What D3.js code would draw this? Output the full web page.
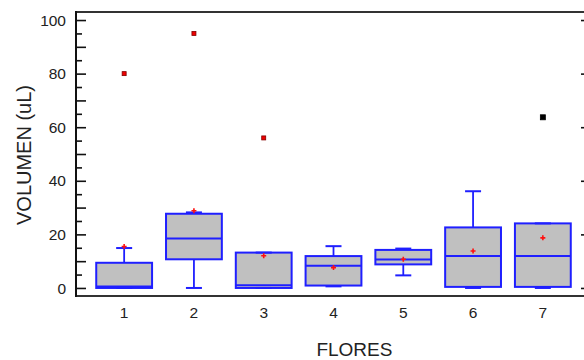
<!DOCTYPE html>
<html>
<head>
<meta charset="utf-8">
<script src="https://cdn.jsdelivr.net/npm/d3@7"></script>
<style>
  body { margin: 0; background: #fff; }
  svg { display: block; font-family: "Liberation Sans", Arial, sans-serif; }
</style>
</head>
<body>
<svg id="chart"></svg>
<script>
// datos de las cajas
const categories = [1, 2, 3, 4, 5, 6, 7];
const whiskerLow = [0, 0, 0, 0.6, 4.7, 0, 0];
const q1 = [0, 10.7, 0, 0.9, 8.8, 0.4, 0.4];
const medians = [0.5, 18.5, 1.0, 8.3, 10.6, 11.9, 11.9];
const q3 = [9.4, 27.7, 13.2, 11.9, 14.2, 22.6, 24.1];
const whiskerHigh = [14.9, 28.2, 13.2, 15.6, 14.7, 36.1, 24.1];
const means = [15.5, 28.8, 12.0, 7.6, 10.7, 13.8, 18.7];
// puntos atipicos: categoria, valor, tipo
const outlierCat = [1, 2, 3, 7];
const outlierVal = [80, 95, 56, 63.7];
const outlierFar = [false, false, false, true];
const yTicks = [0, 20, 40, 60, 80, 100];

const width = 584;
const height = 360;
const svg = d3.select("#chart").attr("width", width).attr("height", height);

const marge = { left: 76, right: 591, top: 12, bottom: 296 };

const x = d3.scaleLinear().domain([0.31, 7.69]).range([marge.left, marge.right]);
const y = d3.scaleLinear().domain([-3, 103]).range([marge.bottom, marge.top]);
const boxW = x(1.8) - x(1);
const capW = 16;

// eje y izquierdo: marcas mayores, intermedias y menores hacia dentro
const gy = svg.append("g").attr("transform", `translate(${marge.left},0)`);
gy.call(d3.axisRight(y).tickValues(d3.range(0, 101, 10)).tickSize(10).tickFormat(""))
  .call(g => g.select(".domain").remove());
gy.append("g").call(d3.axisRight(y).tickValues(d3.range(5, 100, 10)).tickSize(6).tickFormat(""))
  .call(g => g.select(".domain").remove());
gy.selectAll("line").attr("stroke", "#111").attr("stroke-width", 1.6);
gy.selectAll(".ylab").data(yTicks).enter().append("text")
  .attr("x", -10).attr("y", d => y(d)).attr("dy", "0.36em")
  .attr("text-anchor", "end").attr("font-size", 15.5).attr("fill", "#222")
  .text(d => d);

// eje y derecho (queda casi fuera del cuadro)
const gr = svg.append("g").attr("transform", `translate(${marge.right},0)`);
gr.call(d3.axisLeft(y).tickValues(yTicks).tickSize(10).tickFormat(""))
  .call(g => g.select(".domain").remove());
gr.append("g").call(d3.axisLeft(y).tickValues(d3.range(5, 100, 5).filter(v => v % 20)).tickSize(5).tickFormat(""))
  .call(g => g.select(".domain").remove());
gr.selectAll("line").attr("stroke", "#111").attr("stroke-width", 1.6);

// marco
svg.append("line").attr("x1", marge.left).attr("x2", marge.right)
  .attr("y1", marge.top).attr("y2", marge.top)
  .attr("stroke", "#333").attr("stroke-width", 2);
svg.append("line").attr("x1", marge.left).attr("x2", marge.right)
  .attr("y1", marge.bottom).attr("y2", marge.bottom)
  .attr("stroke", "#333").attr("stroke-width", 2);
svg.append("line").attr("x1", marge.left).attr("x2", marge.left)
  .attr("y1", marge.top - 1).attr("y2", marge.bottom + 1)
  .attr("stroke", "#111").attr("stroke-width", 2);

// etiquetas del eje x
svg.selectAll(".xlab").data(categories).enter().append("text")
  .attr("x", d => x(d)).attr("y", 318)
  .attr("text-anchor", "middle").attr("font-size", 15.5).attr("fill", "#222")
  .text(d => d);

// cajas
const blue = "#1f1fff";
const gs = svg.selectAll(".box").data(categories).enter().append("g");
gs.append("line")
  .attr("x1", d => x(d)).attr("x2", d => x(d))
  .attr("y1", (d, i) => y(q3[i])).attr("y2", (d, i) => y(whiskerHigh[i]))
  .attr("stroke", blue).attr("stroke-width", 1.8);
gs.append("line")
  .attr("x1", d => x(d)).attr("x2", d => x(d))
  .attr("y1", (d, i) => y(q1[i])).attr("y2", (d, i) => y(whiskerLow[i]))
  .attr("stroke", blue).attr("stroke-width", 1.8);
gs.append("rect")
  .attr("x", d => x(d) - boxW / 2)
  .attr("y", (d, i) => y(q3[i]))
  .attr("width", boxW)
  .attr("height", (d, i) => y(q1[i]) - y(q3[i]))
  .attr("fill", "#c0c0c0").attr("stroke", blue).attr("stroke-width", 2);
gs.append("line")
  .attr("x1", d => x(d) - boxW / 2).attr("x2", d => x(d) + boxW / 2)
  .attr("y1", (d, i) => y(medians[i])).attr("y2", (d, i) => y(medians[i]))
  .attr("stroke", blue).attr("stroke-width", 2);
[whiskerHigh, whiskerLow].forEach(arr => {
  gs.append("line")
    .attr("x1", d => x(d) - capW / 2).attr("x2", d => x(d) + capW / 2)
    .attr("y1", (d, i) => y(arr[i])).attr("y2", (d, i) => y(arr[i]))
    .attr("stroke", blue).attr("stroke-width", 2);
});

// medias (cruces rojas)
gs.append("path")
  .attr("d", (d, i) => {
    const cx = x(d), cy = y(means[i]);
    return `M${cx - 2.5},${cy}H${cx + 2.5}M${cx},${cy - 2.5}V${cy + 2.5}`;
  })
  .attr("stroke", "#ff1010").attr("stroke-width", 1.6);

// atipicos
svg.selectAll(".out").data(outlierCat).enter().append("rect")
  .attr("x", (d, i) => x(d) - (outlierFar[i] ? 2.5 : 2))
  .attr("y", (d, i) => y(outlierVal[i]) - (outlierFar[i] ? 2.5 : 2))
  .attr("width", (d, i) => outlierFar[i] ? 5 : 4)
  .attr("height", (d, i) => outlierFar[i] ? 5 : 4)
  .attr("fill", (d, i) => outlierFar[i] ? "#000" : "#ee0000")
  .attr("stroke", (d, i) => outlierFar[i] ? "#000" : "#800000")
  .attr("stroke-width", 0.8);

// titulos de ejes
svg.append("text")
  .attr("x", x(4.3)).attr("y", 356)
  .attr("text-anchor", "middle").attr("font-size", 19).attr("fill", "#222")
  .text("FLORES");
svg.append("text")
  .attr("transform", `translate(31,155) rotate(-90)`)
  .attr("text-anchor", "middle").attr("font-size", 20).attr("fill", "#222")
  .text("VOLUMEN (uL)");
</script>
</body>
</html>
